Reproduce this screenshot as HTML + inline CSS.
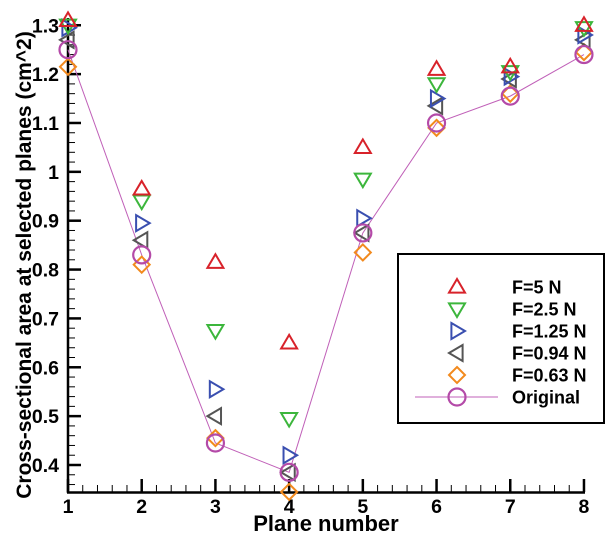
<!DOCTYPE html><html><head><style>body{margin:0;background:#fff}svg{display:block}text{font-family:"Liberation Sans",Arial,sans-serif;font-weight:bold}</style></head><body>
<svg id="s" width="616" height="543" xmlns="http://www.w3.org/2000/svg"></svg>
<script>
const X=v=>68+(v-1)*73.71, Y=v=>465-(v-0.4)*488.6;
let h='';
const L=(a,b,c,d,w,col)=>h+=`<line x1="${a}" y1="${b}" x2="${c}" y2="${d}" stroke="${col||'#000'}" stroke-width="${w||2}"/>`;
L(68,18,68,493,2.5);L(67,492.5,585,492.5,2.5);
for(let v=0.36;v<=1.32;v+=0.02){let y=Y(v),maj=Math.abs(v*10-Math.round(v*10))<0.01;L(68,y,maj?81:75,y,maj?2.5:1);}
for(let v=0.4;v<=1.31;v+=0.1){h+=`<text x="59" y="${Y(v)+7}" font-size="19.5" text-anchor="end">${(Math.round(v*10)/10)}</text>`;}
for(let v=1;v<=8.001;v+=0.2){let x=X(v),maj=Math.abs(v-Math.round(v))<0.01;L(x,492,x,maj?479:485,maj?2.5:1);if(maj)h+=`<text x="${x}" y="513" font-size="19.5" text-anchor="middle">${Math.round(v)}</text>`;}
h+=`<text x="326" y="531" font-size="22" text-anchor="middle">Plane number</text>`;
h+=`<text transform="translate(31,265) rotate(-90)" font-size="21" text-anchor="middle">Cross-sectional area at selected planes (cm^2)</text>`;
const d={up:[1.31,.965,.815,.65,1.05,1.21,1.215,1.3],dn:[1.3,.94,.675,.495,.985,1.18,1.205,1.295],rt:[1.295,.895,.555,.42,.905,1.15,1.195,1.28],lf:[1.27,.86,.5,.385,.875,1.135,1.19,1.27],ci:[1.25,.83,.445,.385,.875,1.1,1.155,1.24],di:[1.215,.81,.455,.345,.835,1.09,1.16,1.245]};
const M=(t,x,y)=>{const s=8;switch(t){
case'up':return `<polygon points="${x},${y-s} ${x-s},${y+s*0.7} ${x+s},${y+s*0.7}" fill="none" stroke="#d8222a" stroke-width="2"/>`;
case'dn':return `<polygon points="${x},${y+s} ${x-s},${y-s*0.7} ${x+s},${y-s*0.7}" fill="none" stroke="#3cb63c" stroke-width="2"/>`;
case'rt':return `<polygon points="${x+s},${y} ${x-s*0.7},${y-s} ${x-s*0.7},${y+s}" fill="none" stroke="#3a4fb0" stroke-width="2"/>`;
case'lf':return `<polygon points="${x-s},${y} ${x+s*0.7},${y-s} ${x+s*0.7},${y+s}" fill="none" stroke="#555" stroke-width="2"/>`;
case'di':return `<polygon points="${x},${y-s} ${x+s},${y} ${x},${y+s} ${x-s},${y}" fill="none" stroke="#f28a1e" stroke-width="2"/>`;
case'ci':return `<circle cx="${x}" cy="${y}" r="8.5" fill="none" stroke="#b44aa8" stroke-width="2.2"/>`;}};
h+=`<polyline points="${d.ci.map((v,i)=>X(i+1)+','+Y(v)).join(' ')}" fill="none" stroke="#c060b8" stroke-width="1"/>`;
for(const t of['di','lf','rt','dn','up','ci'])d[t].forEach((v,i)=>h+=M(t,X(i+1),Y(v)));
h+=`<rect x="398" y="254" width="206" height="169" fill="#fff" stroke="#000" stroke-width="2"/>`;
const lg=[['up','F=5 N'],['dn','F=2.5 N'],['rt','F=1.25 N'],['lf','F=0.94 N'],['di','F=0.63 N'],['ci','Original']];
lg.forEach((e,i)=>{let y=287+i*22;if(e[0]=='ci'){L(415,y,498,y,1,'#c060b8');}h+=M(e[0],457,y);h+=`<text x="512" y="${y+6.5}" font-size="18">${e[1]}</text>`;});
document.getElementById('s').innerHTML=h;
</script></body></html>
